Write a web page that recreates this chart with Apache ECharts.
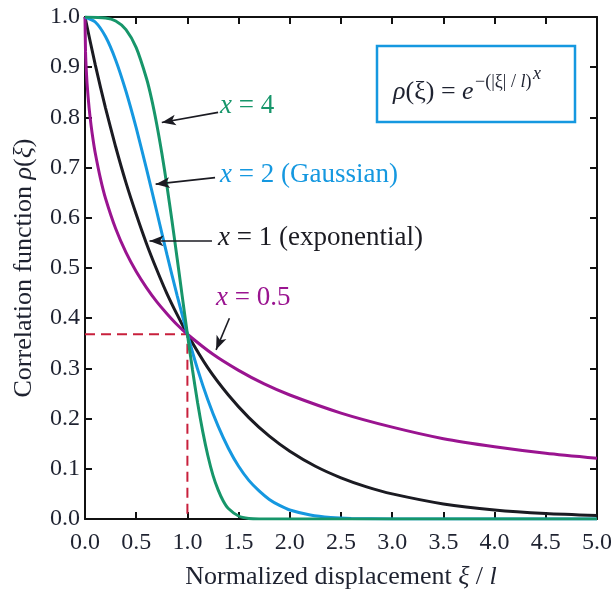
<!DOCTYPE html>
<html>
<head>
<meta charset="utf-8">
<script src="https://cdn.jsdelivr.net/npm/echarts@6/dist/echarts.min.js"></script>
<style>
  html, body { margin: 0; padding: 0; background: #fff; }
  #chart { width: 611px; height: 596px; }
</style>
</head>
<body>
<div id="chart"></div>
<script>
// Correlation function rho(xi) = exp(-(|xi|/l)^x) for four exponents

// x = 0.5
const xHalf = [0, 0.005, 0.01, 0.02, 0.04, 0.06, 0.08, 0.1, 0.15, 0.2, 0.3, 0.4, 0.5, 0.6, 0.7, 0.8, 0.9, 1.0, 1.25, 1.5, 1.75, 2.0, 2.5, 3.0, 3.5, 4.0, 4.5, 5.0];
const yHalf = [1.0, 0.932, 0.905, 0.868, 0.819, 0.783, 0.754, 0.729, 0.679, 0.639, 0.578, 0.531, 0.493, 0.461, 0.433, 0.409, 0.387, 0.368, 0.328, 0.296, 0.269, 0.247, 0.211, 0.183, 0.160, 0.144, 0.131, 0.121];

// x = 1 (exponential)
const xExp = [0, 0.1, 0.2, 0.3, 0.4, 0.5, 0.6, 0.7, 0.8, 0.9, 1.0, 1.2, 1.4, 1.6, 1.8, 2.0, 2.25, 2.5, 2.75, 3.0, 3.5, 4.0, 4.5, 5.0];
const yExp = [1.0, 0.905, 0.819, 0.741, 0.670, 0.607, 0.549, 0.497, 0.449, 0.407, 0.368, 0.301, 0.247, 0.202, 0.165, 0.135, 0.105, 0.082, 0.064, 0.050, 0.030, 0.018, 0.011, 0.007];

// x = 2 (Gaussian)
const xGauss = [0, 0.1, 0.2, 0.3, 0.4, 0.5, 0.6, 0.7, 0.8, 0.9, 1.0, 1.1, 1.2, 1.3, 1.4, 1.5, 1.6, 1.7, 1.8, 1.9, 2.0, 2.2, 2.4, 2.6, 3.0, 5.0];
const yGauss = [1.0, 0.990, 0.961, 0.914, 0.852, 0.779, 0.698, 0.613, 0.527, 0.445, 0.368, 0.298, 0.237, 0.185, 0.141, 0.105, 0.077, 0.056, 0.039, 0.027, 0.018, 0.008, 0.003, 0.001, 0, 0];

// x = 4
const xFour = [0, 0.2, 0.3, 0.4, 0.5, 0.6, 0.65, 0.7, 0.75, 0.8, 0.85, 0.9, 0.95, 1.0, 1.05, 1.1, 1.15, 1.2, 1.25, 1.3, 1.35, 1.4, 1.5, 1.6, 1.7, 2.0, 5.0];
const yFour = [1.0, 0.998, 0.992, 0.975, 0.939, 0.878, 0.837, 0.787, 0.729, 0.664, 0.593, 0.519, 0.443, 0.368, 0.297, 0.231, 0.174, 0.126, 0.087, 0.058, 0.036, 0.021, 0.006, 0.001, 0, 0, 0];

// dashed guide at rho = 1/e
const xGuide = [0, 1.0, 1.0];
const yGuide = [0.368, 0.368, 0];

const xTicks = ['0.0', '0.5', '1.0', '1.5', '2.0', '2.5', '3.0', '3.5', '4.0', '4.5', '5.0'];
const yTicks = ['0.0', '0.1', '0.2', '0.3', '0.4', '0.5', '0.6', '0.7', '0.8', '0.9', '1.0'];

const pairs = (xs, ys) => xs.map((x, i) => [x, ys[i]]);

const SERIF = '"Liberation Serif", "DejaVu Serif", serif';
const INK = '#1e2230';
const GREEN = '#17966a';
const BLUE = '#1598e0';
const BLACK = '#1b1b22';
const PURPLE = '#9a1490';
const RED = '#c8203c';

const chart = echarts.init(document.getElementById('chart'), null, { renderer: 'canvas' });

const axisCommon = {
  type: 'value',
  axisLine: { show: true, onZero: false, lineStyle: { color: '#111', width: 2 } },
  axisTick: { show: true, inside: true, length: 7, lineStyle: { color: '#111', width: 2 } },
  splitLine: { show: false }
};

const lineSeries = (name, data, color) => ({
  name, type: 'line', data,
  showSymbol: false, symbol: 'none',
  smooth: 0.25,
  lineStyle: { color, width: 3 },
  animation: false, silent: true
});

// annotation arrows: [tail, head] in data units
const arrows = [
  [[1.30, 0.81], [0.75, 0.79]],
  [[1.27, 0.68], [0.69, 0.667]],
  [[1.24, 0.554], [0.63, 0.554]],
  [[1.41, 0.40], [1.28, 0.337]]
];

const label = (txt, color, x, y) => ({
  type: 'text', x, y, silent: true,
  style: {
    text: '{i|x} = ' + txt, fill: color, font: '27px ' + SERIF, verticalAlign: 'middle',
    rich: { i: { fontStyle: 'italic', fontFamily: SERIF, fontSize: 27, fill: color } }
  }
});

const nameRich = {
  n: { fontFamily: SERIF, fontSize: 26, color: INK },
  i: { fontFamily: SERIF, fontSize: 26, fontStyle: 'italic', color: INK }
};

const option = {
  backgroundColor: '#fff',
  animation: false,
  grid: { left: 85, right: 14, top: 17, bottom: 77, containLabel: false, outerBoundsMode: 'none' },
  xAxis: [
    Object.assign({}, axisCommon, {
      min: 0, max: 5, interval: 0.5, position: 'bottom',
      name: '{n|Normalized displacement }{i|ξ}{n| / }{i|l}',
      nameLocation: 'middle', nameGap: 45,
      nameTextStyle: { fontFamily: SERIF, fontSize: 26, color: INK, rich: nameRich },
      axisLabel: { fontFamily: SERIF, fontSize: 24, color: INK, margin: 12,
        formatter: (v) => xTicks[Math.round(v * 2)] }
    }),
    Object.assign({}, axisCommon, {
      min: 0, max: 5, interval: 0.5, position: 'top',
      axisLabel: { show: false }
    })
  ],
  yAxis: [
    Object.assign({}, axisCommon, {
      min: 0, max: 1, interval: 0.1, position: 'left',
      name: '{n|Correlation function }{i|ρ}{n|(}{i|ξ}{n|)}',
      nameLocation: 'middle', nameGap: 48, nameRotate: 90,
      nameTextStyle: { fontFamily: SERIF, fontSize: 26, color: INK, rich: nameRich },
      axisLabel: { fontFamily: SERIF, fontSize: 24, color: INK, margin: 5,
        formatter: (v) => yTicks[Math.round(v * 10)] }
    }),
    Object.assign({}, axisCommon, {
      min: 0, max: 1, interval: 0.1, position: 'right',
      axisLabel: { show: false }
    })
  ],
  series: [
    {
      name: 'guide', type: 'line', data: pairs(xGuide, yGuide),
      showSymbol: false, symbol: 'none',
      lineStyle: { color: RED, width: 2, type: [10, 6] },
      silent: true,
      markLine: {
        silent: true, animation: false,
        symbol: ['none', 'arrow'], symbolSize: [8, 14],
        label: { show: false },
        lineStyle: { color: BLACK, width: 1.6, type: 'solid' },
        data: arrows.map(([a, b]) => [{ coord: a }, { coord: b }])
      }
    },
    lineSeries('x = 1', pairs(xExp, yExp), BLACK),
    lineSeries('x = 0.5', pairs(xHalf, yHalf), PURPLE),
    lineSeries('x = 2', pairs(xGauss, yGauss), BLUE),
    lineSeries('x = 4', pairs(xFour, yFour), GREEN)
  ],
  graphic: [
    label('4', GREEN, 220, 106),
    label('2 (Gaussian)', BLUE, 220, 175),
    label('1 (exponential)', BLACK, 218, 238),
    label('0.5', PURPLE, 216, 298),
    // formula box
    { type: 'rect', silent: true,
      shape: { x: 377, y: 46, width: 198, height: 76 },
      style: { fill: '#fff', stroke: BLUE, lineWidth: 2.5 } },
    { type: 'text', x: 393, y: 92, silent: true,
      style: { text: '{i|ρ}(ξ) = {i|e}', fill: INK, font: '26px ' + SERIF, verticalAlign: 'middle',
        rich: { i: { fontStyle: 'italic', fontFamily: SERIF, fontSize: 26, fill: INK } } } },
    { type: 'text', x: 475, y: 82, silent: true,
      style: { text: '−(|ξ| / {i|l})', fill: INK, font: '18px ' + SERIF, verticalAlign: 'middle',
        rich: { i: { fontStyle: 'italic', fontFamily: SERIF, fontSize: 18, fill: INK } } } },
    { type: 'text', x: 533, y: 74, silent: true,
      style: { text: 'x', fill: INK, font: 'italic 18px ' + SERIF, verticalAlign: 'middle' } }
  ]
};

chart.setOption(option);
</script>
</body>
</html>
